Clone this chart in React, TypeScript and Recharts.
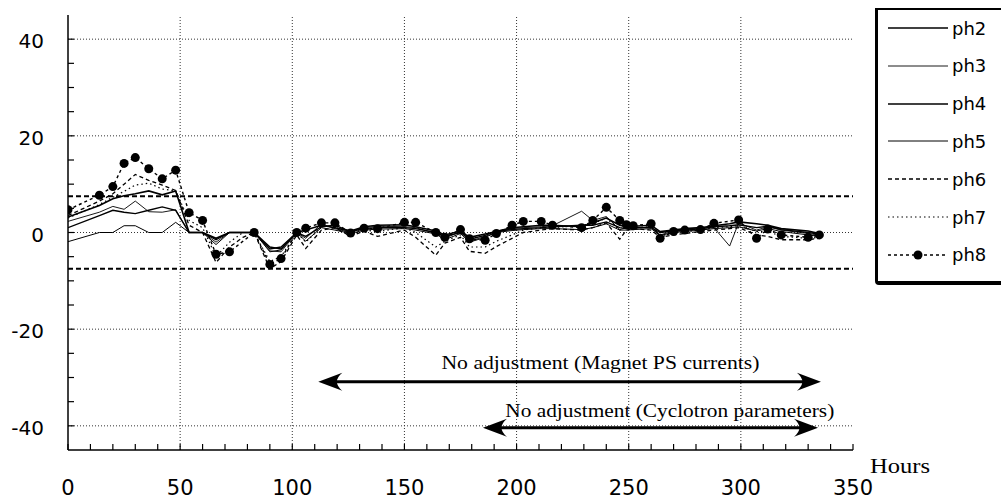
import { LineChart, Line, XAxis, YAxis, ReferenceLine, ReferenceDot } from 'recharts'

// sample times (hours) shared by all phase series
const hours = [
  0, 14, 20, 25, 30, 36, 42, 48, 54, 60,
  66, 72, 78, 83, 90, 95, 102, 106, 113, 119,
  126, 132, 138, 150, 155, 164, 168, 175, 179, 186,
  191, 198, 203, 211, 216, 229, 234, 240, 246, 249,
  252, 260, 264, 270, 275, 282, 288, 295, 299, 307,
  312, 318, 330, 335,
]

const ph2 = [
  3.2, 5.6, 7.0, 7.6, 8.0, 8.6, 7.8, 8.6, 0, 0,
  -1.2, 0, 0, 0, -3.0, -3.4, 0, 0.5, 1.5, 1.0,
  0.3, 1.2, 1.5, 1.6, 1.2, 0.3, -0.5, 0.3, -1.0, -0.3,
  0.2, 1.0, 1.2, 1.5, 1.5, 1.2, 2.0, 3.0, 1.5, 1.2,
  1.3, 1.5, 0.2, 0.5, 0.8, 1.0, 1.4, 1.8, 2.2, 1.8,
  1.5, 0.8, 0.3, -0.2,
]
const ph3 = [
  2.3, 4.2, 5.4, 4.8, 6.5, 4.3, 4.2, 4.7, 0, 0,
  -2.0, 0, 0, 0, -3.8, -4.0, 0, -1.2, 1.8, 0.8,
  0, 1.0, 1.3, 1.2, 1.0, -0.2, -1.2, 0.2, -1.8, -0.8,
  0, 0.8, 1.0, 1.2, 1.4, 4.4, 2.5, 3.3, 0.6, 1.0,
  0.8, 1.2, -0.5, 0.3, 0.6, 0.8, 1.0, -2.8, 2.0, 0.5,
  1.2, 0.5, -0.2, -0.6,
]
const ph4 = [
  1.0, 3.5, 4.6, 4.2, 3.9, 4.6, 5.3, 4.6, 0, 0,
  -1.5, 0, 0, 0, -3.4, -3.0, 0, -0.8, 1.2, 1.5,
  0.2, 0.8, 1.0, 1.0, 0.8, 0, -0.8, 0, -1.4, -0.6,
  0.3, 0.6, 0.8, 1.0, 1.2, 1.5, 1.5, 2.2, 1.0, 0.8,
  1.0, 1.0, 0, 0.3, 0.4, 0.8, 1.2, 1.4, 1.6, 1.0,
  1.3, 0.6, 0, -0.3,
]
const ph5 = [
  -1.9, 0, 0, 1.4, 1.4, 0, 0, 2.1, 0, 0,
  -2.5, 0, 0, 0, -4.0, -3.6, 0, -1.8, 1.0, 0.5,
  -0.2, 0.5, 0.7, 0.8, 0.5, -0.3, -1.5, -0.2, -2.0, -1.0,
  0, 0.4, 0.6, 0.8, 0.8, 0.6, 1.0, 1.8, 0.5, 0.5,
  0.6, 0.8, -0.6, 0, 0.2, 0.5, 0.8, 1.0, 1.2, 0.3,
  0.8, 0.2, -0.5, -0.8,
]
const ph6 = [
  3.5, 6.5, 8.0, 10.0, 12.0, 10.8, 9.8, 8.7, 1.5, 0,
  -6.2, -3.0, -1.0, 0, -7.5, -6.0, -0.5, -3.3, 0.5, 1.0,
  -0.8, 0.3, -0.8, 0.5, -1.0, -4.7, -2.2, -1.0, -3.9, -4.3,
  -2.9, -1.2, 0, 0.5, 0.8, 0.5, 1.0, 2.0, -1.4, 0.5,
  0.8, 0.5, -1.0, -0.5, -0.2, 0.2, 0.5, 0.8, 1.0, -0.5,
  -0.8, -1.5, -1.5, -1.2,
]
const ph7 = [
  3.0, 5.8, 7.3, 8.5, 9.8, 10.2, 9.0, 8.6, 2.5, 1.0,
  -5.0, -2.0, 0, 0, -6.0, -5.0, 0, -2.0, 1.2, 1.5,
  -0.5, 0.5, 0.2, 1.0, 0, -3.0, -1.8, -0.5, -3.0, -3.0,
  -1.8, -0.5, 0.5, 1.0, 1.0, 1.5, 1.8, 3.0, 0.5, 1.0,
  1.0, 1.2, -0.8, 0, 0.2, 0.5, 1.0, 1.2, 1.5, 0.2,
  0.2, -0.8, -1.2, -1.0,
]
const ph8 = [
  4.7, 7.7, 9.5, 14.3, 15.5, 13.2, 11.1, 12.9, 4.1, 2.5,
  -4.5, -4.0, null, 0, -6.6, -5.4, 0, 0.9, 2.0, 2.0,
  -0.1, 0.9, 0.8, 2.1, 2.1, 0, -1.0, 0.6, -1.3, -1.6,
  -0.2, 1.5, 2.3, 2.3, 1.5, 1.0, 2.5, 5.2, 2.5, 1.6,
  1.4, 1.8, -1.2, 0.2, 0.5, 0.6, 1.9, null, 2.6, -1.2,
  0.7, -0.5, -1.0, -0.5,
]

const xTicks = [0, 10, 20, 30, 40, 50, 60, 70, 80, 90, 100, 110, 120, 130, 140, 150, 160, 170, 180, 190, 200, 210, 220, 230, 240, 250, 260, 270, 280, 290, 300, 310, 320, 330, 340, 350]
const xLabels = [0, 50, 100, 150, 200, 250, 300, 350]
const xGrid = [50, 100, 150, 200, 250, 300]
const yTicks = [-40, -35, -30, -25, -20, -15, -10, -5, 0, 5, 10, 15, 20, 25, 30, 35, 40]
const yLabels = [-40, -20, 0, 20, 40]
const limits = [7.5, -7.5]

// annotation arrows: [from hour, to hour, level]
const arrows = [
  { from: 111.6, to: 335.7, at: -30.9 },
  { from: 185, to: 334.4, at: -40.4 },
]
const notes = [
  { text: 'No adjustment (Magnet PS currents)', x: 237.4, y: -28.3, len: 318 },
  { text: 'No adjustment (Cyclotron parameters)', x: 268.3, y: -38.1, len: 329 },
]

const rows = hours.map((h, i) => ({
  hours: h,
  ph2: ph2[i],
  ph3: ph3[i],
  ph4: ph4[i],
  ph5: ph5[i],
  ph6: ph6[i],
  ph7: ph7[i],
  ph8: ph8[i],
}))

type SeriesStyle = { key: string; width: number; dash?: string; dot?: boolean }

const series: SeriesStyle[] = [
  { key: 'ph2', width: 1.6 },
  { key: 'ph3', width: 0.9 },
  { key: 'ph4', width: 1.4 },
  { key: 'ph5', width: 1 },
  { key: 'ph6', width: 1.3, dash: '4 3' },
  { key: 'ph7', width: 1.2, dash: '1.5 3' },
  { key: 'ph8', width: 1.4, dash: '3 3', dot: true },
]

const TICK_FONT = '"DejaVu Sans", Arial, sans-serif'
const SERIF = '"Liberation Serif", "Times New Roman", serif'

const BottomTick = (p: any) => {
  const v = p.payload.value
  return (
    <g>
      <line x1={p.x} x2={p.x} y1={p.y} y2={p.y - 6} stroke="#000" strokeWidth={1.2} />
      {xLabels.includes(v) && (
        <text x={p.x} y={p.y + 45} textAnchor="middle" fontFamily={TICK_FONT} fontSize={21} fill="#000">
          {v}
        </text>
      )}
    </g>
  )
}

const TopTick = (p: any) => <line x1={p.x} x2={p.x} y1={p.y} y2={p.y + 6} stroke="#000" strokeWidth={1.2} />

const LeftTick = (p: any) => {
  const v = p.payload.value
  return (
    <g>
      <line x1={p.x} x2={p.x + 6} y1={p.y} y2={p.y} stroke="#000" strokeWidth={1.2} />
      {yLabels.includes(v) && (
        <text x={p.x - 24} y={p.y + 9} textAnchor="end" fontFamily={TICK_FONT} fontSize={20} fill="#000">
          {v}
        </text>
      )}
    </g>
  )
}

const RightTick = (p: any) => <line x1={p.x} x2={p.x - 6} y1={p.y} y2={p.y} stroke="#000" strokeWidth={1.2} />

const HoursLabel = (p: any) => {
  const vb = p.viewBox
  return (
    <text x={vb.x + vb.width + 47} y={vb.y + 23} textAnchor="middle" fontFamily={SERIF} fontSize={22} textLength={60} lengthAdjust="spacingAndGlyphs" fill="#000">
      Hours
    </text>
  )
}

const ArrowShape = (p: any) => {
  const { x1, x2, y1 } = p
  const L = 24
  const W = 9
  return (
    <g>
      <line x1={x1 + 8} x2={x2 - 8} y1={y1} y2={y1} stroke="#000" strokeWidth={3} />
      <path d={`M${x1},${y1} L${x1 + L},${y1 - W} Q${x1 + L * 0.55},${y1} ${x1 + L},${y1 + W} Z`} fill="#000" />
      <path d={`M${x2},${y1} L${x2 - L},${y1 - W} Q${x2 - L * 0.55},${y1} ${x2 - L},${y1 + W} Z`} fill="#000" />
    </g>
  )
}

function LegendSample({ s }: { s: SeriesStyle }) {
  return (
    <svg width={60} height={12} style={{ display: 'block' }}>
      <line x1={0} x2={60} y1={6} y2={6} stroke="#000" strokeWidth={s.width} strokeDasharray={s.dash} />
      {s.dot && <circle cx={30} cy={6} r={4.5} fill="#000" />}
    </svg>
  )
}

export default function App() {
  return (
    <div style={{ position: 'fixed', left: 0, top: 0, width: 1001, height: 502, overflow: 'hidden', background: '#fff' }}>
      <LineChart width={1001} height={502} data={rows} margin={{ top: 15, right: 148, bottom: 0, left: 0 }}>
        <XAxis
          dataKey="hours"
          type="number"
          domain={[0, 350]}
          ticks={xTicks}
          interval={0}
          height={52}
          tickSize={0}
          tickMargin={0}
          tickLine={false}
          tick={BottomTick}
          axisLine={{ stroke: '#000', strokeWidth: 1.5 }}
          allowDataOverflow
          label={{ content: HoursLabel }}
        />
        <XAxis
          xAxisId="top"
          orientation="top"
          dataKey="hours"
          type="number"
          domain={[0, 350]}
          ticks={xTicks}
          interval={0}
          height={0}
          tickSize={0}
          tickMargin={0}
          tickLine={false}
          tick={TopTick}
          axisLine={{ stroke: '#000', strokeWidth: 1.5 }}
        />
        <YAxis
          type="number"
          domain={[-45, 45]}
          ticks={yTicks}
          interval={0}
          width={68}
          tickSize={0}
          tickMargin={0}
          tickLine={false}
          tick={LeftTick}
          axisLine={{ stroke: '#000', strokeWidth: 1.5 }}
          allowDataOverflow
        />
        <YAxis
          yAxisId="right"
          orientation="right"
          type="number"
          domain={[-45, 45]}
          ticks={yTicks}
          interval={0}
          width={0}
          tickSize={0}
          tickMargin={0}
          tickLine={false}
          tick={RightTick}
          axisLine={{ stroke: '#000', strokeWidth: 1.5 }}
        />
        {xGrid.map((v) => (
          <ReferenceLine key={`gx${v}`} x={v} stroke="#333" strokeWidth={1} strokeDasharray="1 2" />
        ))}
        {yLabels.map((v) => (
          <ReferenceLine key={`gy${v}`} y={v} stroke="#333" strokeWidth={1} strokeDasharray="1 2" />
        ))}
        {limits.map((v) => (
          <ReferenceLine key={`lim${v}`} y={v} stroke="#000" strokeWidth={2.2} strokeDasharray="5 3" />
        ))}
        {series.map((s) => (
          <Line
            key={s.key}
            dataKey={s.key}
            type="linear"
            stroke="#000"
            strokeWidth={s.width}
            strokeDasharray={s.dash}
            dot={s.dot ? { r: 4.5, fill: '#000', stroke: '#000', strokeWidth: 0 } : false}
            activeDot={false}
            connectNulls
            isAnimationActive={false}
          />
        ))}
        {arrows.map((a, i) => (
          <ReferenceLine
            key={`arr${i}`}
            segment={[
              { x: a.from, y: a.at },
              { x: a.to, y: a.at },
            ]}
            shape={ArrowShape}
          />
        ))}
        {notes.map((n, i) => (
          <ReferenceDot
            key={`note${i}`}
            x={n.x}
            y={n.y}
            r={0}
            shape={(p: any) => (
              <text x={p.cx} y={p.cy} textAnchor="middle" fontFamily={SERIF} fontSize={19} textLength={n.len} lengthAdjust="spacingAndGlyphs" fill="#000">
                {n.text}
              </text>
            )}
          />
        ))}
      </LineChart>
      <div
        style={{
          position: 'absolute',
          left: 875,
          top: 8,
          width: 160,
          height: 277,
          boxSizing: 'border-box',
          border: '2px solid #000',
          borderLeftWidth: 3,
          borderBottomWidth: 4,
          borderBottomLeftRadius: 4,
          background: '#fff',
        }}
      >
        {series.map((s, i) => (
          <div
            key={s.key}
            style={{
              position: 'absolute',
              left: 10,
              top: 18 + i * 37.8 - 11,
              height: 22,
              display: 'flex',
              alignItems: 'center',
              gap: 4,
              fontFamily: TICK_FONT,
              fontSize: 18,
              color: '#000',
            }}
          >
            <LegendSample s={s} />
            <span>{s.key}</span>
          </div>
        ))}
      </div>
    </div>
  )
}
